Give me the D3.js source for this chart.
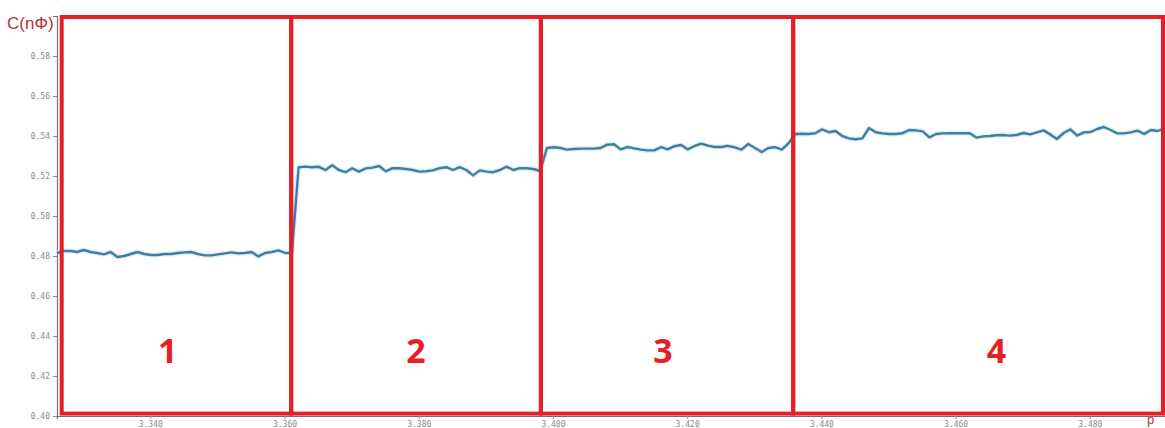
<!DOCTYPE html>
<html>
<head>
<meta charset="utf-8">
<script src="https://cdn.jsdelivr.net/npm/d3@7/dist/d3.min.js"></script>
<style>
  html, body { margin: 0; padding: 0; background: #ffffff; }
  svg { display: block; }
  .tick text { font-family: "DejaVu Sans Mono", monospace; font-size: 8px; fill: #8a8a8a; }
</style>
</head>
<body>
<svg id="chart" width="1165" height="428"></svg>
<script>
// Capacitance readings, sampled every 0.001 in p, starting at p = 3.3261
const pStart = 3.3261;
const pStep = 0.001;

const stage1 = [0.4815, 0.4825, 0.4825, 0.4820, 0.4830, 0.4820, 0.4815, 0.4808, 0.4820, 0.4795,
                0.4800, 0.4810, 0.4820, 0.4810, 0.4805, 0.4805, 0.4810, 0.4810, 0.4815, 0.4818,
                0.4820, 0.4810, 0.4803, 0.4803, 0.4808, 0.4813, 0.4818, 0.4813, 0.4815, 0.4820,
                0.4798, 0.4815, 0.4820, 0.4828, 0.4815, 0.4815];
const stage2 = [0.5243, 0.5247, 0.5244, 0.5246, 0.5230, 0.5254, 0.5230, 0.5219, 0.5239, 0.5222,
                0.5238, 0.5242, 0.5250, 0.5223, 0.5239, 0.5239, 0.5235, 0.5230, 0.5222, 0.5224,
                0.5228, 0.5239, 0.5244, 0.5230, 0.5244, 0.5230, 0.5203, 0.5228, 0.5222, 0.5219,
                0.5230, 0.5247, 0.5230, 0.5239, 0.5239, 0.5235, 0.5225];
const stage3 = [0.5340, 0.5344, 0.5340, 0.5332, 0.5335, 0.5337, 0.5337, 0.5337, 0.5340, 0.5357,
                0.5359, 0.5333, 0.5345, 0.5338, 0.5332, 0.5328, 0.5328, 0.5344, 0.5333, 0.5349,
                0.5355, 0.5333, 0.5350, 0.5362, 0.5352, 0.5345, 0.5345, 0.5351, 0.5343, 0.5332,
                0.5360, 0.5340, 0.5320, 0.5340, 0.5344, 0.5332, 0.5363];
const stage4 = [0.5410, 0.5411, 0.5410, 0.5414, 0.5433, 0.5419, 0.5425, 0.5400, 0.5388, 0.5384,
                0.5388, 0.5440, 0.5419, 0.5413, 0.5410, 0.5410, 0.5414, 0.5430, 0.5428, 0.5423,
                0.5393, 0.5410, 0.5413, 0.5414, 0.5414, 0.5414, 0.5414, 0.5392, 0.5398, 0.5400,
                0.5404, 0.5405, 0.5402, 0.5405, 0.5415, 0.5408, 0.5418, 0.5428, 0.5408, 0.5385,
                0.5415, 0.5433, 0.5402, 0.5418, 0.5420, 0.5435, 0.5445, 0.5430, 0.5413, 0.5413,
                0.5418, 0.5427, 0.5410, 0.5430, 0.5425, 0.5438];

const yTicks = [0.40, 0.42, 0.44, 0.46, 0.48, 0.50, 0.52, 0.54, 0.56, 0.58];
const xTicks = [3.34, 3.36, 3.38, 3.40, 3.42, 3.44, 3.46, 3.48];

// Stage boxes (edges in p) and their labels
const stageEdges = [3.3268, 3.3610, 3.3982, 3.4358, 3.4909];
const stageNames = ["1", "2", "3", "4"];
const stageLabelP = [3.3426, 3.3796, 3.4164, 3.4661];
const stageLabelC = 0.4265;

const yTitle = "C(nΦ)";
const xTitle = "p";

const readings = [].concat(stage1, stage2, stage3, stage4)
  .map((c, i) => ({ p: pStart + i * pStep, c }));

const svg = d3.select("#chart");
const x = d3.scaleLinear().domain([3.3261, 3.4912]).range([57, 1165]);
const y = d3.scaleLinear().domain([0.40, 0.60]).range([416, 16]);

// Axes
const yAxis = svg.append("g")
  .attr("transform", `translate(${x.range()[0]},0)`)
  .call(d3.axisLeft(y).tickValues(yTicks).tickFormat(d3.format(".2f")).tickSize(4).tickPadding(3));
const xAxis = svg.append("g")
  .attr("transform", `translate(0,${y(0.40)})`)
  .call(d3.axisBottom(x).tickValues(xTicks).tickFormat(d3.format(".3f")).tickSize(3).tickPadding(4));
[yAxis, xAxis].forEach(g => {
  g.select(".domain").attr("stroke", "#707070").attr("stroke-width", 1.2);
  g.selectAll(".tick line").attr("stroke", "#909090");
});
xAxis.selectAll(".tick text").attr("dy", "0.55em");

// Series line with a faint halo
const line = d3.line().x(d => x(d.p)).y(d => y(d.c));
svg.append("path")
  .datum(readings)
  .attr("fill", "none")
  .attr("stroke", "#c9e6f2")
  .attr("stroke-width", 5)
  .attr("stroke-linejoin", "round")
  .attr("opacity", 0.6)
  .attr("d", line);
svg.append("path")
  .datum(readings)
  .attr("fill", "none")
  .attr("stroke", "#3f7ea4")
  .attr("stroke-width", 2.4)
  .attr("stroke-linejoin", "round")
  .attr("d", line);

// Stage boxes
const boxTop = y(0.5995), boxBottom = y(0.4012);
const boxes = d3.pairs(stageEdges);
svg.append("g").selectAll("rect")
  .data(boxes)
  .join("rect")
  .attr("x", d => x(d[0]))
  .attr("y", boxTop)
  .attr("width", d => x(d[1]) - x(d[0]))
  .attr("height", boxBottom - boxTop)
  .attr("fill", "none")
  .attr("stroke", "#e41f26")
  .attr("stroke-width", 4);

svg.append("g").selectAll("text")
  .data(stageNames)
  .join("text")
  .attr("x", (d, i) => x(stageLabelP[i]))
  .attr("y", y(stageLabelC))
  .attr("text-anchor", "middle")
  .attr("font-family", "'Open Sans', 'Liberation Sans', sans-serif")
  .attr("font-weight", "bold")
  .attr("font-size", 34)
  .attr("fill", "#e41f26")
  .text(d => d);

// Axis titles
svg.append("text")
  .attr("x", 7)
  .attr("y", 29)
  .attr("font-family", "'Liberation Sans', 'DejaVu Sans', sans-serif")
  .attr("font-size", 17)
  .attr("fill", "#b3343c")
  .text(yTitle);
svg.append("text")
  .attr("x", 1147)
  .attr("y", 424)
  .attr("font-family", "'Liberation Sans', 'DejaVu Sans', sans-serif")
  .attr("font-size", 13)
  .attr("fill", "#b3343c")
  .text(xTitle);
</script>
</body>
</html>
